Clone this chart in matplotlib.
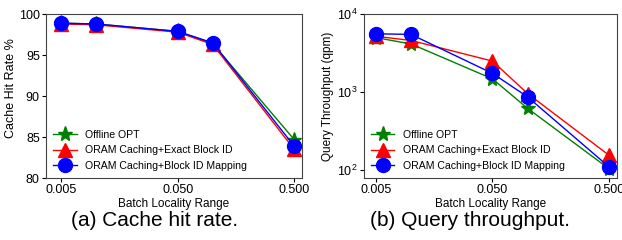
import matplotlib
matplotlib.use('Agg')
import matplotlib.pyplot as plt

plt.rcParams['font.family'] = ['Liberation Sans', 'DejaVu Sans']

ranges = [0.005, 0.01, 0.05, 0.1, 0.5]
labels = ['Offline OPT', 'ORAM Caching+Exact Block ID', 'ORAM Caching+Block ID Mapping']

hit_opt = [98.9, 98.8, 97.9, 96.4, 84.7]
hit_exact = [98.8, 98.7, 97.8, 96.3, 83.5]
hit_map = [98.9, 98.8, 97.9, 96.5, 83.9]

tput_opt = [5000, 4150, 1480, 620, 104]
tput_exact = [5200, 4600, 2500, 960, 155]
tput_map = [5600, 5500, 1740, 870, 110]

styles = [('green', '*', 11), ('red', '^', 10), ('blue', 'o', 10)]

fig = plt.figure(figsize=(6.22, 2.4), dpi=100)
ax1 = fig.add_axes([0.074, 0.258, 0.411, 0.683])
ax2 = fig.add_axes([0.585, 0.258, 0.407, 0.683])

for ax, series in ((ax1, (hit_opt, hit_exact, hit_map)), (ax2, (tput_opt, tput_exact, tput_map))):
    for ys, lab, (c, m, ms) in zip(series, labels, styles):
        ax.plot(ranges, ys, color=c, marker=m, markersize=ms, lw=1, label=lab)
    ax.set_xscale('log')
    ax.set_xticks([0.005, 0.05, 0.5])
    ax.set_xticklabels(['0.005', '0.050', '0.500'])
    ax.minorticks_off()
    ax.set_xlabel('Batch Locality Range', fontsize=8.5, labelpad=1)
    ax.tick_params(labelsize=9, length=3, pad=1.5)
    for s in ax.spines.values():
        s.set_color('#444444')
    ax.legend(loc='lower left', frameon=False, fontsize=7.6, handlelength=2.2,
              borderaxespad=0.25, labelspacing=0.5, handletextpad=0.8,
              borderpad=0.45)

ax1.set_xlim(0.0037, 0.58)
ax1.set_ylim(80, 100)
ax1.set_yticks([80, 85, 90, 95, 100])
ax1.set_ylabel('Cache Hit Rate %', fontsize=9, labelpad=3)
ax1.yaxis.set_label_coords(-0.115, 0.55)

ax2.set_xlim(0.00394, 0.586)
ax2.set_yscale('log')
ax2.set_ylim(79, 10000)
ax2.minorticks_off()
ax2.set_ylabel('Query Throughput (qpm)', fontsize=8.5, labelpad=2)

fig.text(0.248, 0.06, '(a) Cache hit rate.', fontsize=15, ha='center')
fig.text(0.756, 0.06, '(b) Query throughput.', fontsize=15, ha='center')

fig.savefig('out.png', dpi=100)
